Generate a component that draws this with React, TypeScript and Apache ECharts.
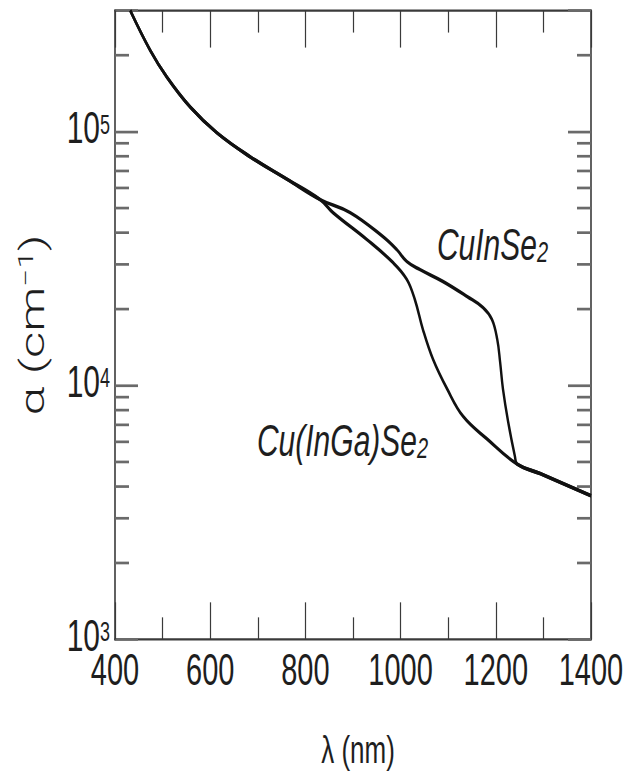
import React, { useEffect, useRef } from 'react';
import * as echarts from 'echarts';

// ---------- data ----------
const X_MIN = 400;
const X_MAX = 1400;
const X_TICK_INTERVAL = 200;
const Y_MIN = 1e3;
const Y_MAX = 3e5;

// minor decade ticks on the log axis
const Y_MINOR_TICKS = [
  2000, 3000, 4000, 5000, 6000, 7000, 8000, 9000,
  20000, 30000, 40000, 50000, 60000, 70000, 80000, 90000,
  200000,
];

// shared short-wavelength part of both curves
const commonLambda = [432, 474, 509, 558, 614, 684, 761, 831];
const commonAlpha = [3.0e5, 2.09e5, 1.64e5, 1.25e5, 9.9e4, 7.96e4, 6.5e4, 5.4e4];

// CuInSe2 branch
const cisLambda = [894, 963, 992, 1013, 1041, 1089, 1140, 1173, 1192, 1203, 1209, 1215, 1226, 1240, 1245];
const cisAlpha = [4.8e4, 3.86e4, 3.43e4, 3.08e4, 2.86e4, 2.57e4, 2.24e4, 2.03e4, 1.82e4, 1.52e4, 1.24e4, 9.7e3, 7.18e3, 5.28e3, 4.9e3];

// Cu(InGa)Se2 branch
const cigsLambda = [858, 929, 984, 1013, 1030, 1047, 1068, 1098, 1131, 1182, 1245];
const cigsAlpha = [4.8e4, 3.76e4, 3.05e4, 2.62e4, 2.18e4, 1.66e4, 1.27e4, 9.67e3, 7.57e3, 6.15e3, 4.9e3];

// shared long-wavelength tail
const tailLambda = [1293, 1400];
const tailAlpha = [4.5e3, 3.68e3];

// label anchors (data coordinates)
const cisLabelAt = [1193, 3.6e4];
const cigsLabelAt = [878, 6.1e3];

// ---------- layout ----------
const FONT = "'Liberation Sans', Arial, Helvetica, sans-serif";
const TITLE_FONT = "Roboto, 'Liberation Sans', Arial, sans-serif";
const INNER_H = 517;
const STRETCH = 776 / INNER_H; // the reference figure is vertically stretched
const AXIS_COLOR = '#3a3a3a';
const YTICK_COLOR = '#6a6a6a';
const TEXT_COLOR = '#1e1e1e';

const zip = (xs: number[], ys: number[]) => xs.map((x, i) => [x, ys[i]]);

const cisData = [...zip(commonLambda, commonAlpha), ...zip(cisLambda, cisAlpha), ...zip(tailLambda, tailAlpha)];
const cigsData = [...zip(commonLambda, commonAlpha), ...zip(cigsLambda, cigsAlpha), ...zip(tailLambda, tailAlpha)];

const labelRich = {
  m: { fontSize: 30, fontStyle: 'italic', fontFamily: FONT, color: TEXT_COLOR, lineHeight: 30, verticalAlign: 'top' },
  b: { fontSize: 20, fontStyle: 'italic', fontFamily: FONT, color: TEXT_COLOR, lineHeight: 20, padding: [18, 0, 0, 0], verticalAlign: 'bottom' },
};

const markLabel = (coord: number[], text: string) => ({
  symbol: 'circle',
  symbolSize: 1,
  silent: true,
  itemStyle: { color: 'rgba(0,0,0,0)' },
  label: {
    show: true,
    position: 'inside',
    color: TEXT_COLOR,
    textBorderWidth: 0,
    formatter: text,
    rich: labelRich,
  },
  data: [{ coord }],
});

const xAxisBase = {
  type: 'value',
  min: X_MIN,
  max: X_MAX,
  interval: X_TICK_INTERVAL,
  axisLine: { show: true, onZero: false, lineStyle: { color: AXIS_COLOR, width: 1.5 } },
  axisTick: { show: true, inside: true, length: 24.7, lineStyle: { color: AXIS_COLOR, width: 1.2 } },
  minorTick: { show: true, splitNumber: 2, length: 14.7, lineStyle: { color: AXIS_COLOR, width: 1.2 } },
  splitLine: { show: false },
  minorSplitLine: { show: false },
};

const yAxisBase = {
  type: 'log',
  logBase: 10,
  min: Y_MIN,
  max: Y_MAX,
  axisLine: { show: true, onZero: false, lineStyle: { color: AXIS_COLOR, width: 1.6 } },
  axisTick: { show: true, inside: true, length: 23, lineStyle: { color: YTICK_COLOR, width: 1.8 } },
  minorTick: { show: false },
  splitLine: { show: false },
  minorSplitLine: { show: false },
};

const option = {
  animation: false,
  backgroundColor: '#ffffff',
  grid: { left: 115, right: 39, top: 7, bottom: 89.7 },
  xAxis: [
    {
      ...xAxisBase,
      position: 'bottom',
      axisLabel: {
        fontSize: 29,
        lineHeight: 22,
        color: TEXT_COLOR,
        margin: 9.5,
        fontFamily: FONT,
        formatter: (v: number) => String(v),
      },
      name: 'λ (nm)',
      nameLocation: 'middle',
      nameGap: 60,
      nameTextStyle: { fontSize: 26, color: TEXT_COLOR, fontFamily: FONT, padding: [0, 0, 0, 10] },
    },
    {
      ...xAxisBase,
      position: 'top',
      axisLabel: { show: false },
    },
  ],
  yAxis: [
    {
      ...yAxisBase,
      position: 'left',
      axisLabel: {
        margin: 5,
        color: TEXT_COLOR,
        padding: [0, 0, 6, 0],
        formatter: (v: number) => {
          const e = Math.log10(v);
          const r = Math.round(e);
          if (Math.abs(e - r) > 1e-6) return '';
          return `{b|10}{s|${r}}`;
        },
        rich: {
          b: { fontSize: 30, lineHeight: 22, fontFamily: FONT, color: TEXT_COLOR },
          s: { fontSize: 18, lineHeight: 1, fontFamily: FONT, color: TEXT_COLOR, verticalAlign: 'top' },
        },
      },
      name: 'α (cm{sup|−1})',
      nameLocation: 'middle',
      nameGap: 64,
      nameRotate: 90,
      nameTextStyle: {
        fontSize: 34,
        lineHeight: 36,
        color: TEXT_COLOR,
        fontFamily: TITLE_FONT,
        fontWeight: 300,
        rich: {
          sup: {
            fontSize: 21,
            lineHeight: 20,
            fontFamily: TITLE_FONT,
            fontWeight: 300,
            color: TEXT_COLOR,
            verticalAlign: 'top',
          },
        },
      },
    },
    {
      ...yAxisBase,
      position: 'right',
      axisLabel: { show: false },
    },
  ],
  series: [
    {
      name: 'CuInSe2',
      type: 'line',
      xAxisIndex: 0,
      yAxisIndex: 0,
      data: cisData,
      smooth: 0.4,
      symbol: 'none',
      showSymbol: false,
      lineStyle: { color: '#111', width: 2.4 },
      z: 5,
      markPoint: markLabel(cisLabelAt, '{m|CuInSe}{b|2}'),
    },
    {
      name: 'Cu(InGa)Se2',
      type: 'line',
      xAxisIndex: 0,
      yAxisIndex: 0,
      data: cigsData,
      smooth: 0.4,
      symbol: 'none',
      showSymbol: false,
      lineStyle: { color: '#111', width: 2.4 },
      z: 5,
      markPoint: markLabel(cigsLabelAt, '{m|Cu(InGa)Se}{b|2}'),
    },
    {
      name: 'minorTicks',
      type: 'custom',
      xAxisIndex: 0,
      yAxisIndex: 0,
      silent: true,
      z: 2,
      data: Y_MINOR_TICKS.map((v) => [X_MIN, v]),
      renderItem: (params: any, api: any) => {
        const v = api.value(1);
        const pl = api.coord([X_MIN, v]);
        const pr = api.coord([X_MAX, v]);
        const style = { stroke: YTICK_COLOR, lineWidth: 1.8 };
        return {
          type: 'group',
          children: [
            { type: 'line', shape: { x1: pl[0], y1: pl[1], x2: pl[0] + 14, y2: pl[1] }, style },
            { type: 'line', shape: { x1: pr[0] - 14, y1: pr[1], x2: pr[0], y2: pr[1] }, style },
          ],
        };
      },
    },
  ],
};

export default function App() {
  const ref = useRef<HTMLDivElement>(null);
  useEffect(() => {
    document.body.style.margin = '0';
    const chart = echarts.init(ref.current as HTMLDivElement, null, { renderer: 'svg' });
    chart.setOption(option as any);
    return () => chart.dispose();
  }, []);
  return (
    <div style={{ width: 630, height: 776, overflow: 'hidden', background: '#fff' }}>
      <div
        ref={ref}
        style={{ width: 630, height: INNER_H, transform: `scaleY(${STRETCH})`, transformOrigin: '0 0' }}
      />
    </div>
  );
}
